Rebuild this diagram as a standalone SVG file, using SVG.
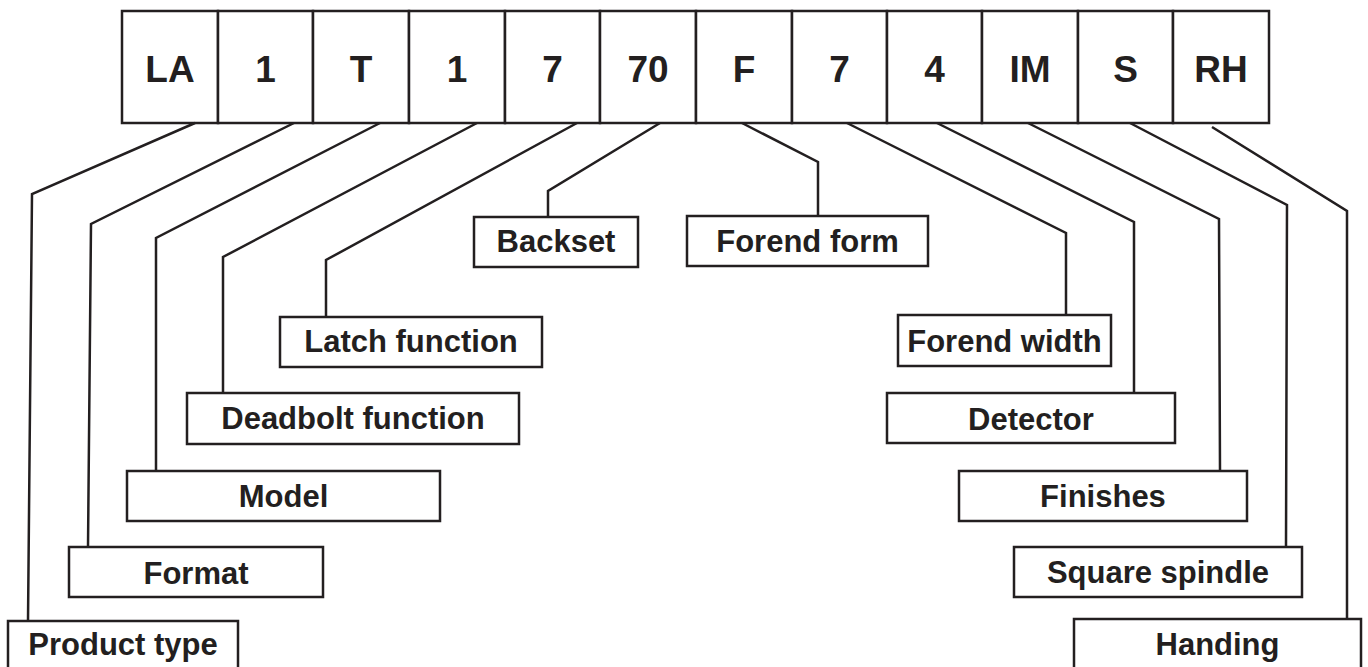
<svg xmlns="http://www.w3.org/2000/svg" width="1368" height="667" viewBox="0 0 1368 667">
<style>
.b{fill:#fff;stroke:#231f20;stroke-width:2.5}
.c{fill:none;stroke:#231f20;stroke-width:2.5;stroke-linejoin:miter}
.t{font-family:"Liberation Sans",Arial,sans-serif;font-weight:bold;fill:#231f20;text-anchor:middle}
.k{font-size:37px}
.l{font-size:31px}
</style>
<rect width="1368" height="667" fill="#fff"/>
<g id="code">
<g id="cell-LA"><rect class="b" x="122" y="11" width="96" height="112"/><text class="t k" x="170" y="82">LA</text></g>
<g id="cell-1a"><rect class="b" x="218" y="11" width="95" height="112"/><text class="t k" x="265.5" y="82">1</text></g>
<g id="cell-T"><rect class="b" x="313" y="11" width="96" height="112"/><text class="t k" x="361" y="82">T</text></g>
<g id="cell-1b"><rect class="b" x="409" y="11" width="96" height="112"/><text class="t k" x="457" y="82">1</text></g>
<g id="cell-7a"><rect class="b" x="505" y="11" width="95" height="112"/><text class="t k" x="552.5" y="82">7</text></g>
<g id="cell-70"><rect class="b" x="600" y="11" width="96" height="112"/><text class="t k" x="648" y="82">70</text></g>
<g id="cell-F"><rect class="b" x="696" y="11" width="96" height="112"/><text class="t k" x="744" y="82">F</text></g>
<g id="cell-7b"><rect class="b" x="792" y="11" width="95" height="112"/><text class="t k" x="839.5" y="82">7</text></g>
<g id="cell-4"><rect class="b" x="887" y="11" width="95" height="112"/><text class="t k" x="934.5" y="82">4</text></g>
<g id="cell-IM"><rect class="b" x="982" y="11" width="96" height="112"/><text class="t k" x="1030" y="82">IM</text></g>
<g id="cell-S"><rect class="b" x="1078" y="11" width="95" height="112"/><text class="t k" x="1125.5" y="82">S</text></g>
<g id="cell-RH"><rect class="b" x="1173" y="11" width="96" height="112"/><text class="t k" x="1221" y="82">RH</text></g>
</g>
<g id="connectors">
<path class="c" d="M195,123 L32,194 L28,621"/>
<path class="c" d="M294,123 L91,224 L88,547"/>
<path class="c" d="M380,123 L156,238 L156,471"/>
<path class="c" d="M477,123 L223,257 L223,393"/>
<path class="c" d="M577,123 L326,260 L326,317"/>
<path class="c" d="M660,123 L548,191 L548,217"/>
<path class="c" d="M742,123 L818,162 L818,216"/>
<path class="c" d="M847,123 L1066,233 L1066,315"/>
<path class="c" d="M937,123 L1134,222 L1134,393"/>
<path class="c" d="M1028,123 L1219,219 L1220,471"/>
<path class="c" d="M1130,123 L1287,205 L1286,547"/>
<path class="c" d="M1212,127 L1347,211 L1347,619"/>
</g>
<g id="product-type"><rect class="b" x="8" y="621" width="230" height="60"/><text class="t l" x="123" y="655">Product type</text></g>
<g id="format"><rect class="b" x="69" y="547" width="254" height="50"/><text class="t l" x="196" y="584">Format</text></g>
<g id="model"><rect class="b" x="127" y="471" width="313" height="50"/><text class="t l" x="283.5" y="507">Model</text></g>
<g id="deadbolt-function"><rect class="b" x="187" y="393" width="332" height="51"/><text class="t l" x="353" y="429">Deadbolt function</text></g>
<g id="latch-function"><rect class="b" x="280" y="317" width="262" height="50"/><text class="t l" x="411" y="352">Latch function</text></g>
<g id="backset"><rect class="b" x="474" y="217" width="164" height="50"/><text class="t l" x="556" y="252">Backset</text></g>
<g id="forend-form"><rect class="b" x="687" y="216" width="241" height="50"/><text class="t l" x="807.5" y="252">Forend form</text></g>
<g id="forend-width"><rect class="b" x="898" y="315" width="213" height="51"/><text class="t l" x="1004.5" y="352">Forend width</text></g>
<g id="detector"><rect class="b" x="887" y="393" width="288" height="50"/><text class="t l" x="1031" y="430">Detector</text></g>
<g id="finishes"><rect class="b" x="959" y="471" width="288" height="50"/><text class="t l" x="1103" y="507">Finishes</text></g>
<g id="square-spindle"><rect class="b" x="1014" y="547" width="288" height="50"/><text class="t l" x="1158" y="583">Square spindle</text></g>
<g id="handing"><rect class="b" x="1074" y="619" width="287" height="62"/><text class="t l" x="1217.5" y="655">Handing</text></g>
</svg>
